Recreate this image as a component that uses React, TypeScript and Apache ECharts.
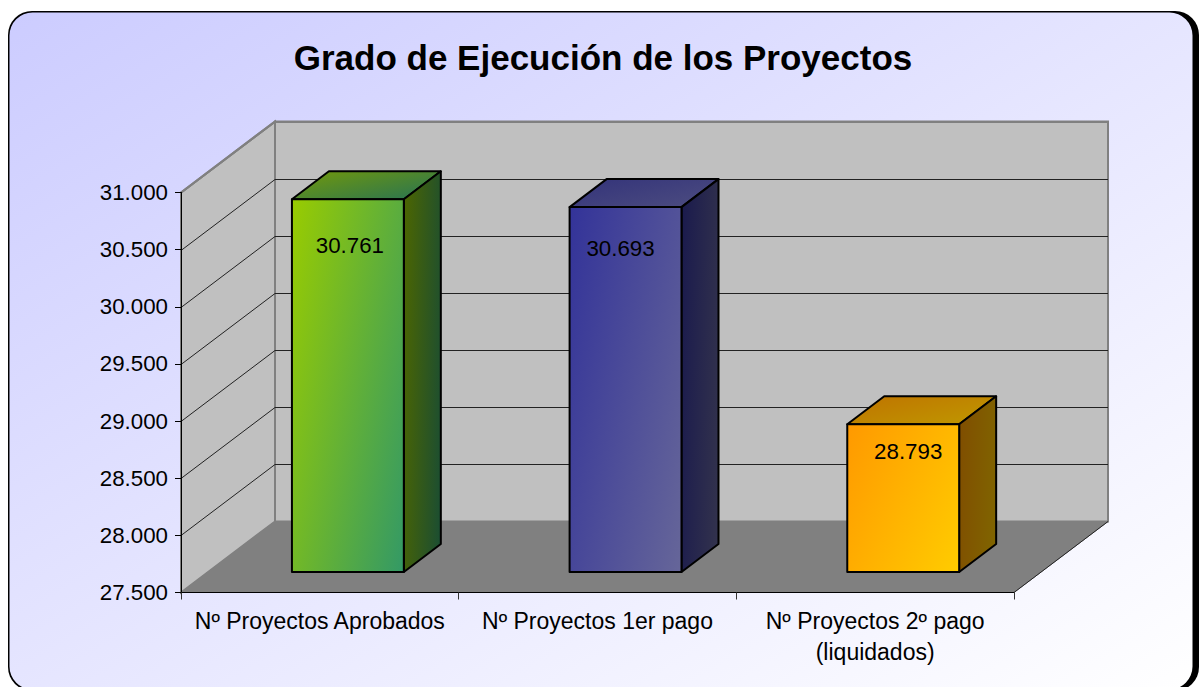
import React, { useEffect, useRef } from "react";
import * as echarts from "echarts";

const titleText = "Grado de Ejecución de los Proyectos";
const categories = ["Nº Proyectos Aprobados", "Nº Proyectos 1er pago", "Nº Proyectos 2º pago\n(liquidados)"];
const projectCounts = [30761, 30693, 28793];
const gridTicks = [27500, 28000, 28500, 29000, 29500, 30000, 30500, 31000];

const frontStart = ["#99CC00", "#333399", "#FF9900"];
const frontEnd = ["#339966", "#666699", "#FFCC00"];
const sideStart = ["#4D6600", "#1A1A4D", "#804D00"];
const sideEnd = ["#1A4D33", "#33334D", "#806600"];
const topStart = ["#73990A", "#33337A", "#BF7300"];
const topEnd = ["#267355", "#4D4D80", "#BF9900"];
const labelShift = [[2, 46.5], [-5, 41.5], [5, 27.5]];

const DEPTH_X = 94;
const DEPTH_Y = 71;
const fmt = (v: number) => `${Math.floor(v / 1000)}.${String(v % 1000).padStart(3, "0")}`;

function diag(x: number, y: number, w: number, h: number, c1: string, c2: string, ax = 0.62) {
  const nx = ax / w;
  const ny = (1 - ax) / h;
  const n2 = nx * nx + ny * ny;
  return new echarts.graphic.LinearGradient(x, y, x + nx / n2, y + ny / n2, [
    { offset: 0, color: c1 },
    { offset: 1, color: c2 },
  ], true);
}

function renderWalls(params: any, api: any) {
  const cs = params.coordSys;
  const L = cs.x, R = cs.x + cs.width, T = cs.y, B = cs.y + cs.height;
  const children: any[] = [
    { type: "polygon", shape: { points: [[L + DEPTH_X, T - DEPTH_Y], [R + DEPTH_X, T - DEPTH_Y], [R + DEPTH_X, B - DEPTH_Y], [L + DEPTH_X, B - DEPTH_Y]] }, style: { fill: "#C0C0C0", stroke: "#808080", lineWidth: 2 } },
    { type: "polygon", shape: { points: [[L, T], [L + DEPTH_X, T - DEPTH_Y], [L + DEPTH_X, B - DEPTH_Y], [L, B]] }, style: { fill: "#C0C0C0", stroke: "#808080", lineWidth: 2 } },
    { type: "polygon", shape: { points: [[L, B], [L + DEPTH_X, B - DEPTH_Y], [R + DEPTH_X, B - DEPTH_Y], [R, B]] }, style: { fill: "#808080", stroke: "#808080", lineWidth: 1 } },
  ];
  gridTicks.slice(1).forEach((t) => {
    const y = Math.round(api.coord([0, t])[1]) + 0.5;
    children.push({ type: "polyline", shape: { points: [[L, y], [L + DEPTH_X, y - DEPTH_Y], [R + DEPTH_X, y - DEPTH_Y]] }, style: { fill: "none", stroke: t === 31000 ? "#808080" : "#222222", lineWidth: 1 } });
  });
  children.push({ type: "line", shape: { x1: L, y1: T, x2: L + DEPTH_X, y2: T - DEPTH_Y }, style: { stroke: "#808080", lineWidth: 2 } });
  children.push({ type: "line", shape: { x1: R, y1: B, x2: R + DEPTH_X, y2: B - DEPTH_Y }, style: { stroke: "#222222", lineWidth: 1 } });
  return { type: "group", children };
}

function renderBar(params: any, api: any) {
  const i = api.value(0);
  const v = api.value(1);
  const p = api.coord([i, v]);
  const base = api.coord([i, 27500]);
  const band = api.size([1, 0])[0];
  const w = band * 0.403;
  const ox = 0.101 * band;
  const oy = 20.5;
  const dx = 37;
  const dy = 28;
  const x0 = p[0] + ox - w / 2;
  const x1 = x0 + w;
  const y0 = p[1] - oy;
  const y1 = base[1] - oy;
  const h = y1 - y0;
  const s = { stroke: "#000000", lineWidth: 2, lineJoin: "round" };
  return {
    type: "group",
    children: [
      { type: "polygon", shape: { points: [[x0, y0], [x1, y0], [x1 + dx, y0 - dy], [x0 + dx, y0 - dy]] }, style: { ...s, fill: diag(x0, y0 - dy, w + dx, dy, topStart[i], topEnd[i], 0.55) } },
      { type: "polygon", shape: { points: [[x1, y0], [x1 + dx, y0 - dy], [x1 + dx, y1 - dy], [x1, y1]] }, style: { ...s, fill: diag(x1, y0 - dy, dx, h + dy, sideStart[i], sideEnd[i], 0.8) } },
      { type: "rect", shape: { x: x0, y: y0, width: w, height: h }, style: { ...s, fill: diag(x0, y0, w, h, frontStart[i], frontEnd[i]) } },
      { type: "text", style: { text: fmt(v), x: (x0 + x1) / 2 + labelShift[i][0], y: y0 + labelShift[i][1], fill: "#000000", font: '22.3px "Liberation Sans"', align: "center", verticalAlign: "middle" } },
    ],
  };
}

export default function App() {
  const ref = useRef<HTMLDivElement>(null);
  useEffect(() => {
    const chart = echarts.init(ref.current!, null, { renderer: "svg" });
    chart.setOption({
      animation: false,
      backgroundColor: "#FFFFFF",
      title: { text: titleText, left: 598, top: 35, textAlign: "center", textStyle: { fontFamily: "Liberation Sans", fontWeight: "bold", fontSize: 35, color: "#000000" } },
      graphic: [
        { type: "rect", z: -10, shape: { x: 8, y: 11, width: 1191, height: 680, r: 24 }, style: { fill: "#000000" } },
        { type: "rect", z: -9, shape: { x: 9.5, y: 12.5, width: 1183, height: 677, r: 23 }, style: { fill: diag(9.5, 12.5, 1183, 677, "#CCCCFF", "#FFFFFF", 0.5) } },
      ],
      grid: { left: 181, right: 187, top: 192.5, bottom: 94.5, containLabel: false },
      xAxis: {
        type: "category", data: categories, z: 5,
        axisLine: { lineStyle: { color: "#000000", width: 1 } },
        axisTick: { show: true, length: 7, lineStyle: { color: "#333333" } },
        axisLabel: { interval: 0, margin: 13, color: "#000000", fontFamily: "Liberation Sans", fontSize: 23, lineHeight: 31 },
      },
      yAxis: {
        type: "value", min: 27500, max: 31000, interval: 500, z: 5,
        splitLine: { show: false },
        axisLine: { show: true, lineStyle: { color: "#000000", width: 1 } },
        axisTick: { show: true, length: 6, lineStyle: { color: "#000000" } },
        axisLabel: { formatter: (v: number) => fmt(v), margin: 13, color: "#000000", fontFamily: "Liberation Sans", fontSize: 22.3 },
      },
      series: [
        { type: "custom", coordinateSystem: "cartesian2d", z: 1, silent: true, renderItem: renderWalls, data: [[0, 27500]], encode: { x: 0, y: 1 } },
        { type: "custom", coordinateSystem: "cartesian2d", z: 2, silent: true, renderItem: renderBar, clip: false, data: projectCounts.map((v, i) => [i, v]), encode: { x: 0, y: 1 } },
      ],
    });
    return () => chart.dispose();
  }, []);
  return <div ref={ref} style={{ position: "fixed", left: 0, top: 0, width: 1201, height: 687 }} />;
}
